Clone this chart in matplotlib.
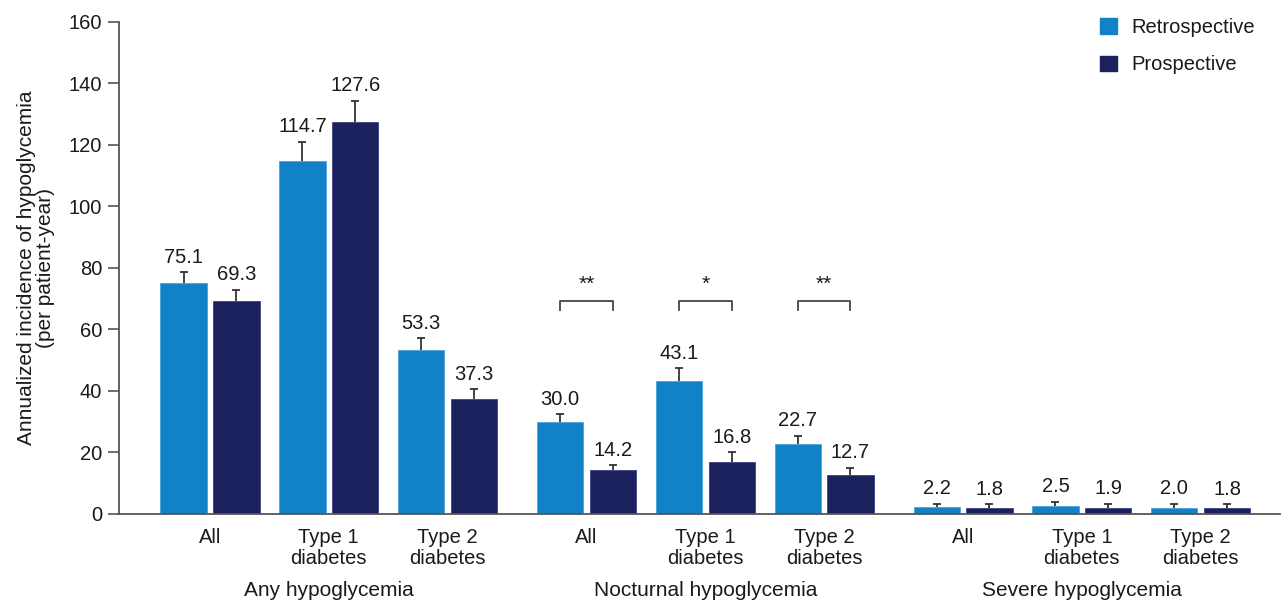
import matplotlib
matplotlib.use("Agg")
import matplotlib.pyplot as plt
import matplotlib.transforms as mtransforms
from matplotlib.patches import Patch

plt.rcParams['font.family'] = ['Liberation Sans', 'DejaVu Sans']

# Data
sections = ["Any hypoglycemia", "Nocturnal hypoglycemia", "Severe hypoglycemia"]
subgroups = ["All", "Type 1\ndiabetes", "Type 2\ndiabetes"]
retrospective = [75.1, 114.7, 53.3, 30.0, 43.1, 22.7, 2.2, 2.5, 2.0]
prospective = [69.3, 127.6, 37.3, 14.2, 16.8, 12.7, 1.8, 1.9, 1.8]
retro_err = [3.5, 6.3, 3.9, 2.4, 4.3, 2.8, 1.2, 1.4, 1.35]
prosp_err = [3.6, 6.8, 3.3, 1.6, 3.3, 2.3, 1.3, 1.45, 1.3]
significance = {3: "**", 4: "*", 5: "**"}

RETRO_COLOR = "#1282C8"
PROSP_COLOR = "#1B215D"
TEXT_COLOR = "#1a1a1a"
AXIS_COLOR = "#555555"
ERR_COLOR = "#333333"

fig = plt.figure(figsize=(12.85, 6.02), dpi=100)
ax = fig.add_axes([0.0926, 0.1462, 0.9034, 0.8173])

section_gap = 0.17
centers = [i + (i // 3) * section_gap for i in range(len(retrospective))]
width = 0.39
off = 0.222

xr = [c - off for c in centers]
xp = [c + off for c in centers]

ax.bar(xr, retrospective, width, color=RETRO_COLOR, edgecolor="#4aa3dc",
       linewidth=0.6, label="Retrospective", zorder=2)
ax.bar(xp, prospective, width, color=PROSP_COLOR, edgecolor="#3a4284",
       linewidth=0.6, label="Prospective", zorder=2)

# Upper-only error bars with a cap at the top end
for xs, vals, errs in ((xr, retrospective, retro_err), (xp, prospective, prosp_err)):
    tops = [v + e for v, e in zip(vals, errs)]
    ax.vlines(xs, vals, tops, color=ERR_COLOR, lw=1.3, zorder=3)
    ax.plot(xs, tops, ls="none", marker="_", markersize=6, mew=1.3,
            color=ERR_COLOR, zorder=3)
    for x, v, t in zip(xs, vals, tops):
        ax.annotate(f"{v:.1f}", (x, t), xytext=(0, 4), textcoords="offset points",
                    ha="center", va="bottom", fontsize=14.5, color=TEXT_COLOR)

# Significance brackets for nocturnal hypoglycemia
for i, stars in significance.items():
    y_top, y_leg = 69.3, 66.4
    ax.plot([xr[i], xr[i], xp[i], xp[i]], [y_leg, y_top, y_top, y_leg],
            color="#444444", lw=1.3, zorder=3)
    ax.text(centers[i], y_top + 2.4, stars, ha="center", va="bottom",
            fontsize=15, color=TEXT_COLOR)

ax.set_xlim(-0.766, 9.007)
ax.set_ylim(0, 160)
ax.set_yticks(range(0, 161, 20))
ax.set_xticks(centers)
ax.set_xticklabels(subgroups * 3, linespacing=1.15)
ax.tick_params(axis="x", length=0, pad=10, labelsize=14.5, labelcolor=TEXT_COLOR)
ax.tick_params(axis="y", length=8, width=1.2, color=AXIS_COLOR, pad=4,
               labelsize=14.5, labelcolor=TEXT_COLOR)

for s in ("top", "right"):
    ax.spines[s].set_visible(False)
for s in ("left", "bottom"):
    ax.spines[s].set_color(AXIS_COLOR)
    ax.spines[s].set_linewidth(1.3)

ax.set_ylabel("Annualized incidence of hypoglycemia\n(per patient-year)",
              fontsize=15, color=TEXT_COLOR, linespacing=1.0)
ax.yaxis.set_label_coords(-0.055, 0.5)

trans = mtransforms.blended_transform_factory(ax.transData, ax.transAxes)
for k, name in enumerate(sections):
    ax.text(centers[3 * k + 1], -0.155, name, transform=trans, ha="center",
            va="center", fontsize=15, color=TEXT_COLOR)

handles = [Patch(facecolor=RETRO_COLOR, edgecolor=RETRO_COLOR),
           Patch(facecolor=PROSP_COLOR, edgecolor=PROSP_COLOR)]
fig.legend(handles, ["Retrospective", "Prospective"], loc="upper right",
           bbox_to_anchor=(0.991, 1.0), frameon=False, fontsize=14.5,
           handlelength=0.8, handleheight=0.8, handletextpad=0.75,
           labelspacing=0.9, labelcolor=TEXT_COLOR)

fig.savefig("out.png", dpi=100)
